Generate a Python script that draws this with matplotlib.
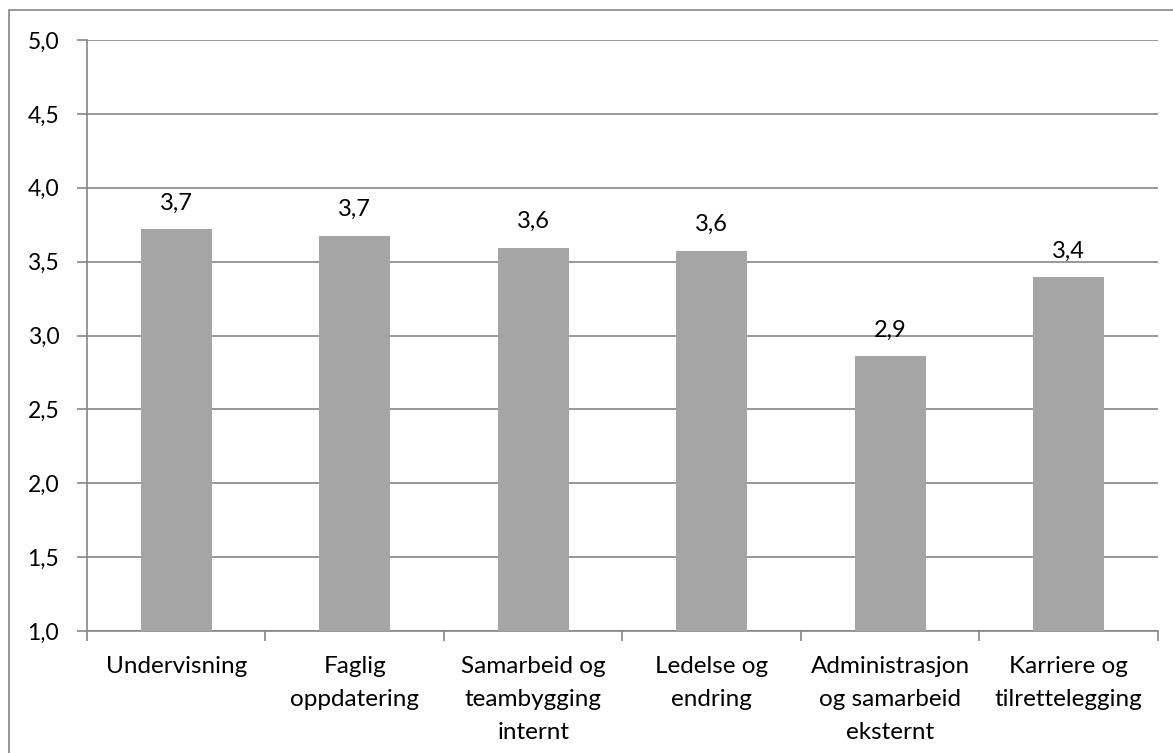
import matplotlib
matplotlib.use("Agg")
import matplotlib.pyplot as plt
from matplotlib.patches import Rectangle
import numpy as np

categories = ["Undervisning", "Faglig\noppdatering", "Samarbeid og\nteambygging\ninternt",
              "Ledelse og\nendring", "Administrasjon\nog samarbeid\neksternt", "Karriere og\ntilrettelegging"]
values = [3.72, 3.675, 3.595, 3.575, 2.86, 3.395]
yticks = [1.0, 1.5, 2.0, 2.5, 3.0, 3.5, 4.0, 4.5, 5.0]

plt.rcParams['font.family'] = ['Lato', 'DejaVu Sans']
W, H = 1173, 753
fig = plt.figure(figsize=(W/100, H/100), dpi=100)
ax = fig.add_axes([87/W, 1-631/H, (1158-87)/W, (631-40)/H])

gray = '#868686'
x = np.arange(len(categories))
ax.bar(x, [v - 1.0 for v in values], bottom=1.0, width=0.4, color='#A5A5A5', zorder=3)
for xi, v in zip(x, values):
    ax.annotate(f"{v:.1f}".replace('.', ','), (xi, v), xytext=(0, 14), textcoords='offset points',
                ha='center', va='baseline', fontsize=17, color='black', zorder=4)

ax.set_xlim(-0.5, len(categories) - 0.5)
ax.set_ylim(1.0, 5.0)
ax.set_yticks(yticks)
ax.set_yticklabels([f"{t:.1f}".replace('.', ',') for t in yticks], fontsize=16.5)
ax.yaxis.grid(True, color=gray, linewidth=1.2, zorder=0)
ax.set_axisbelow(True)

ax.set_xticks(x)
ax.set_xticklabels(categories, fontsize=17.5, linespacing=1.7)
ax.tick_params(axis='x', length=0, pad=18)
ax.set_xticks(np.arange(-0.5, len(categories)), minor=True)
ax.tick_params(axis='x', which='minor', length=7, color=gray, width=1.2)
ax.tick_params(axis='y', length=7, color=gray, width=1.2, pad=13)

for s in ['top', 'right']:
    ax.spines[s].set_visible(False)
for s in ['left', 'bottom']:
    ax.spines[s].set_color(gray)
    ax.spines[s].set_linewidth(1.2)

fig.patches.append(Rectangle((9/W, -0.1), 1.2, 1 - 10/H + 0.1, transform=fig.transFigure,
                             fill=False, edgecolor=gray, linewidth=1.2))

fig.savefig("out.png", dpi=100)
